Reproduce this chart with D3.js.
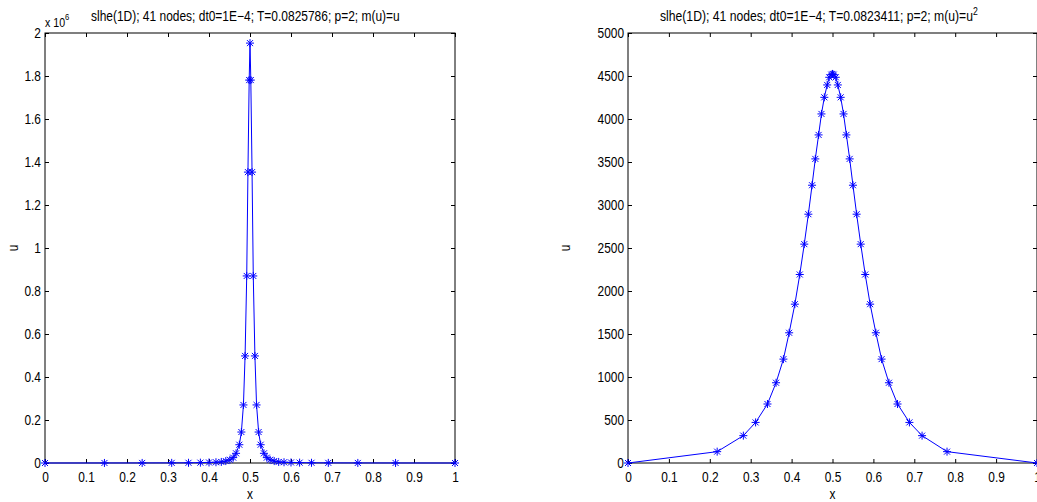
<!DOCTYPE html>
<html>
<head>
<meta charset="utf-8">
<script src="https://cdn.jsdelivr.net/npm/d3@7"></script>
<style>
  body { margin: 0; background: #fff; }
  svg { display: block; font-family: "Liberation Sans", Arial, Helvetica, sans-serif; }
  .tick text { font-size: 14px; fill: #000; }
  .tick line { stroke: #000; }
</style>
</head>
<body>
<svg id="chart_svg" width="1037" height="502"></svg>
<script>
// left panel: m(u)=u, values in raw units (axis shows x 10^6)
var leftX = [0, 0.145, 0.237, 0.309, 0.350, 0.379, 0.400, 0.417, 0.430, 0.441, 0.451, 0.459, 0.466, 0.474, 0.479, 0.484, 0.488, 0.492, 0.495, 0.498,
  0.500,
  0.502, 0.505, 0.508, 0.512, 0.516, 0.521, 0.526, 0.534, 0.541, 0.549, 0.559, 0.570, 0.583, 0.600, 0.621, 0.650, 0.691, 0.763, 0.855, 1.0];
var leftU = [0, 150, 300, 600, 1000, 1600, 2500, 3500, 5000, 9000, 15000, 25000, 45000, 85000, 144000, 270000, 498000, 870000, 1353000, 1781000,
  1953000,
  1781000, 1353000, 870000, 498000, 270000, 144000, 85000, 45000, 25000, 15000, 9000, 5000, 3500, 2500, 1600, 1000, 600, 300, 150, 0];

// right panel: m(u)=u^2
var rightX = [0, 0.218, 0.282, 0.312, 0.341, 0.362, 0.380, 0.394, 0.408, 0.420, 0.431, 0.441, 0.450, 0.458, 0.466, 0.473, 0.480, 0.487, 0.492, 0.497,
  0.500,
  0.503, 0.508, 0.513, 0.520, 0.527, 0.534, 0.542, 0.550, 0.559, 0.569, 0.580, 0.592, 0.606, 0.620, 0.638, 0.659, 0.688, 0.719, 0.780, 1.0];
var rightU = [0, 132, 318, 472, 686, 933, 1208, 1514, 1847, 2192, 2545, 2893, 3230, 3536, 3815, 4059, 4252, 4396, 4485, 4516,
  4524,
  4516, 4485, 4396, 4252, 4059, 3815, 3536, 3230, 2893, 2545, 2192, 1847, 1514, 1208, 933, 686, 472, 318, 132, 0];

var xTicks = [0, 0.1, 0.2, 0.3, 0.4, 0.5, 0.6, 0.7, 0.8, 0.9, 1];
var leftYTicks = [0, 0.2e6, 0.4e6, 0.6e6, 0.8e6, 1e6, 1.2e6, 1.4e6, 1.6e6, 1.8e6, 2e6];
var leftYLabels = ["0", "0.2", "0.4", "0.6", "0.8", "1", "1.2", "1.4", "1.6", "1.8", "2"];
var rightYTicks = [0, 500, 1000, 1500, 2000, 2500, 3000, 3500, 4000, 4500, 5000];

var TOP = 33, BOTTOM = 463, TICK = 4;
var BLUE = "#0000ff";
var SQUEEZE = 0.85; // the original font is narrower than Liberation Sans

var svg = d3.select("#chart_svg");

// squeeze text horizontally around its anchor point
function squeeze(sel, sx) {
  sel.each(function () {
    var t = d3.select(this);
    var x = +t.attr("x") || 0, y = +t.attr("y") || 0;
    t.attr("x", 0).attr("y", 0)
      .attr("transform", "translate(" + x + "," + y + ") scale(" + sx + ",1)");
  });
}

function drawPanel(opt) {
  var x = d3.scaleLinear().domain([0, 1]).range([opt.left, opt.right]);
  var y = d3.scaleLinear().domain([0, opt.ymax]).range([BOTTOM, TOP]);
  var g = svg.append("g");

  // ticks on all four sides, pointing inwards (matlab style)
  g.append("g").attr("transform", "translate(0," + BOTTOM + ")")
    .call(d3.axisBottom(x).tickValues(xTicks).tickSize(-TICK).tickPadding(9).tickFormat(d3.format("")));
  g.append("g").attr("transform", "translate(0," + TOP + ")")
    .call(d3.axisTop(x).tickValues(xTicks).tickSize(-TICK).tickFormat(""));
  g.append("g").attr("transform", "translate(" + opt.left + ",0)")
    .call(d3.axisLeft(y).tickValues(opt.yTicks).tickSize(-TICK).tickPadding(4)
      .tickFormat(function (d, i) { return opt.yLabels[i]; }));
  g.append("g").attr("transform", "translate(" + opt.right + ",0)")
    .call(d3.axisRight(y).tickValues(opt.yTicks).tickSize(-TICK).tickFormat(""));
  g.selectAll(".domain").remove();
  g.selectAll(".tick text").attr("font-family", null).attr("font-size", null);
  squeeze(g.selectAll(".tick text"), SQUEEZE);

  g.append("rect")
    .attr("x", opt.left).attr("y", TOP)
    .attr("width", opt.right - opt.left).attr("height", BOTTOM - TOP)
    .attr("fill", "none").attr("stroke", "#000").attr("stroke-width", 1);

  var pts = opt.xs.map(function (d, i) { return [d, opt.us[i]]; });
  var line = d3.line().x(function (d) { return x(d[0]); }).y(function (d) { return y(d[1]); });
  g.append("path").datum(pts).attr("d", line)
    .attr("fill", "none").attr("stroke", BLUE).attr("stroke-width", 1);

  var r = 4, rd = 3;
  var star = "M0," + (-r) + "V" + r + "M" + (-r) + ",0H" + r +
    "M" + (-rd) + "," + (-rd) + "L" + rd + "," + rd + "M" + (-rd) + "," + rd + "L" + rd + "," + (-rd);
  g.selectAll("path.mark").data(pts).enter().append("path")
    .attr("class", "mark")
    .attr("d", star)
    .attr("transform", function (d) { return "translate(" + x(d[0]) + "," + y(d[1]) + ")"; })
    .attr("fill", "none").attr("stroke", BLUE).attr("stroke-width", 1);

  // title, squeezed to the width it has in the original
  var title = g.append("text").attr("x", opt.titleX).attr("y", 21)
    .attr("font-size", 14).text(opt.title);
  if (opt.titleSup) {
    title.append("tspan").attr("dy", -6).attr("font-size", 10).text(opt.titleSup);
  }
  var w = title.node().getComputedTextLength();
  squeeze(title, opt.titleW / w);

  var xl = g.append("text").attr("x", (opt.left + opt.right) / 2).attr("y", 499)
    .attr("text-anchor", "middle").attr("font-size", 14).text("x");
  squeeze(xl, SQUEEZE);
  g.append("text")
    .attr("transform", "translate(" + opt.yLabelX + "," + ((TOP + BOTTOM) / 2) + ") rotate(-90) scale(" + SQUEEZE + ",1)")
    .attr("text-anchor", "middle").attr("font-size", 14).text("u");
  return g;
}

var gl = drawPanel({
  left: 45, right: 455, ymax: 2e6, yTicks: leftYTicks, yLabels: leftYLabels,
  xs: leftX, us: leftU, titleX: 91, titleW: 309, yLabelX: 18,
  title: "slhe(1D); 41 nodes; dt0=1E\u22124; T=0.0825786; p=2; m(u)=u"
});
var multiplier = gl.append("text").attr("x", 45).attr("y", 27).attr("font-size", 12.5).text("x 10");
multiplier.append("tspan").attr("dy", -7).attr("font-size", 9).text("6");
squeeze(multiplier, SQUEEZE);

var gr = drawPanel({
  left: 628, right: 1037, ymax: 5000, yTicks: rightYTicks, yLabels: rightYTicks.map(String),
  xs: rightX, us: rightU, titleX: 660, titleW: 318, yLabelX: 570,
  title: "slhe(1D); 41 nodes; dt0=1E\u22124; T=0.0823411; p=2; m(u)=u", titleSup: "2"
});
</script>
</body>
</html>
